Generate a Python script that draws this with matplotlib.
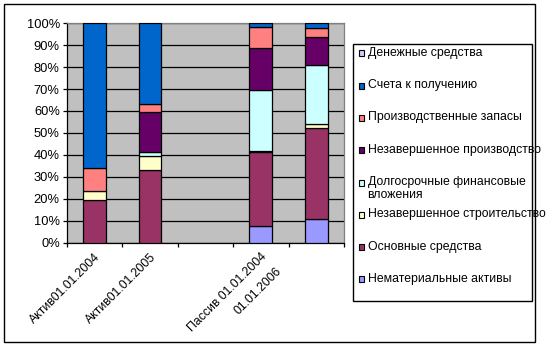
import numpy as np
import matplotlib.pyplot as plt
import matplotlib.transforms as mtransforms
from matplotlib.patches import Rectangle

# categories on the x axis (third slot is an empty gap)
categories = ["Актив01.01.2004", "Актив01.01.2005", "", "Пассив 01.01.2004\n01.01.2006", ""]

# series, bottom of the stack first (percent of each bar)
nemat_aktivy = [0, 0, 0, 7.3, 10.5]
osn_sredstva = [19.6, 33.3, 0, 33.8, 41.6]
nezav_stroit = [3.7, 6.0, 0, 0.8, 1.8]
dolg_vlozh = [0, 2.1, 0, 27.5, 26.9]
nezav_proizv = [0, 18.3, 0, 19.2, 12.8]
proizv_zapasy = [10.5, 3.6, 0, 9.9, 4.4]
scheta = [66.2, 36.7, 0, 1.5, 2.0]
den_sredstva = [0, 0, 0, 0, 0]

series_names = ["Нематериальные активы", "Основные средства", "Незавершенное строительство",
                "Долгосрочные финансовые\nвложения", "Незавершенное производство",
                "Производственные запасы", "Счета к получению", "Денежные средства"]
series_vals = [nemat_aktivy, osn_sredstva, nezav_stroit, dolg_vlozh, nezav_proizv,
               proizv_zapasy, scheta, den_sredstva]
colors = ["#9999FF", "#993366", "#FFFFCC", "#CCFFFF", "#660066", "#FF8080", "#0066CC", "#CCCCFF"]

plt.rcParams['font.family'] = ['Liberation Sans', 'DejaVu Sans']

W, H = 551, 348
fig = plt.figure(figsize=(W / 100, H / 100), dpi=100)


def fx(px):
    return px / W


def fy(py):
    return 1 - py / H


# outer chart border
fig.patches.append(Rectangle((fx(4), fy(342)), fx(531), 338 / H, transform=fig.transFigure,
                             fill=False, edgecolor='black', linewidth=1))

ax = fig.add_axes([fx(66.7), fy(242.5), fx(344 - 66.7), (242.5 - 23.3) / H])
ax.set_facecolor('#C0C0C0')

data = np.array(series_vals, dtype=float)
totals = data.sum(axis=0)
totals[totals == 0] = 1
pct = data / totals * 100

x = np.arange(1, len(categories) + 1)
bottom = np.zeros(len(categories))
for vals, col in zip(pct, colors):
    lw = np.where(vals > 0, 0.9, 0)
    ax.bar(x, vals, width=0.41, bottom=bottom, color=col, edgecolor='black', linewidth=lw, zorder=3)
    bottom += vals

ax.set_xlim(0.5, len(categories) + 0.5)
ax.set_ylim(0, 100)
ax.set_yticks(np.arange(0, 101, 10))
ax.set_yticklabels([f"{v}%" for v in range(0, 101, 10)], fontsize=9.3)
ax.yaxis.grid(True, color='black', linewidth=0.9, zorder=1)
ax.set_axisbelow(True)

ax.set_xticks(x)
ax.set_xticklabels(categories, fontsize=8.8, rotation=45, ha='right', va='top',
                   rotation_mode='anchor', linespacing=1.9)
shift = mtransforms.ScaledTranslation(-11 / 100, 2 / 100, fig.dpi_scale_trans)
for lab in ax.get_xticklabels():
    lab.set_transform(lab.get_transform() + shift)
ax.set_xticks(np.arange(0.5, len(categories) + 1), minor=True)
ax.tick_params(axis='x', which='major', length=0, pad=6)
ax.tick_params(axis='x', which='minor', length=3, direction='out', width=0.9)
ax.tick_params(axis='y', length=3, direction='out', width=0.9, pad=2)

for s in ['top', 'right']:
    ax.spines[s].set_color('#808080')
for s in ['left', 'bottom']:
    ax.spines[s].set_color('black')
for s in ax.spines.values():
    s.set_linewidth(0.9)

# legend box drawn by hand so spacing matches the reference
fig.patches.append(Rectangle((fx(353.3), fy(301)), fx(531.7 - 353.3), (301 - 44) / H,
                             transform=fig.transFigure, facecolor='white', edgecolor='black',
                             linewidth=1))
for i, (name, col) in enumerate(zip(series_names[::-1], colors[::-1])):
    yc = 53.3 + 32.3 * i
    fig.patches.append(Rectangle((fx(358.5), fy(yc + 3)), fx(6), 6 / H, transform=fig.transFigure,
                                 facecolor=col, edgecolor='black', linewidth=0.8))
    fig.text(fx(367.5), fy(yc - 6.5), name, fontsize=8.8, ha='left', va='top', linespacing=1.1)

fig.savefig("out.png", dpi=100)
